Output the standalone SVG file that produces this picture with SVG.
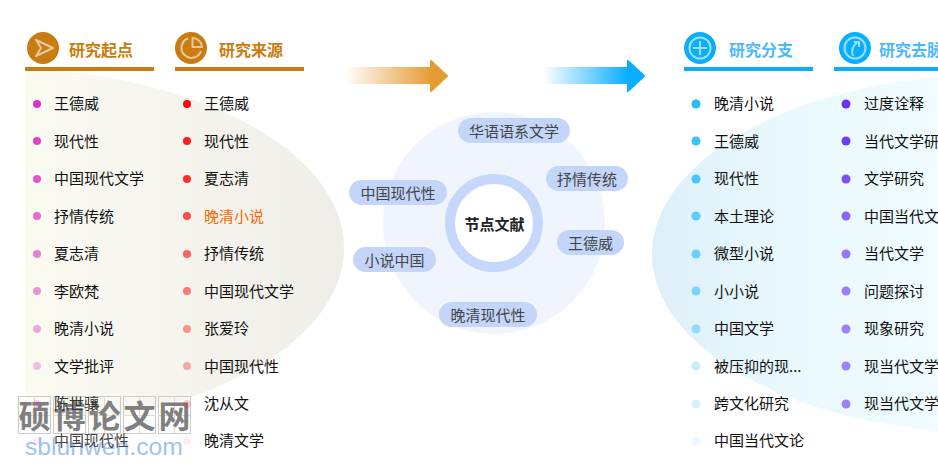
<svg xmlns="http://www.w3.org/2000/svg" width="938" height="467" viewBox="0 0 938 467">
<style>
text{font-family:"Noto Sans CJK SC","Liberation Sans",sans-serif}
.i{font-size:15px;fill:#111;dominant-baseline:central}
.h{font-size:16px;font-weight:700;dominant-baseline:central}
.o{fill:#c97c0f}.b{fill:#0aaeff}.hb{fill:#4db8fb}
.p{fill:#c3d6fa}
.pt{font-size:15px;fill:#444;text-anchor:middle;dominant-baseline:central}
.ic{fill:none;stroke:#fff;stroke-opacity:.6;stroke-width:2;stroke-linejoin:round}
.bx{fill:#fff;fill-opacity:.15;stroke:#ccc}
.bl{stroke:#ddd;fill:none}
</style>
<defs>
<linearGradient id="gl" gradientUnits="userSpaceOnUse" x1="25" x2="344" y1="0" y2="0"><stop offset="0" stop-color="#fcfbf2"/><stop offset="1" stop-color="#eeede8"/></linearGradient>
<linearGradient id="gr" gradientUnits="userSpaceOnUse" x1="652" x2="938" y1="0" y2="0"><stop offset="0" stop-color="#dfeffa"/><stop offset=".45" stop-color="#e8f8fd"/><stop offset="1" stop-color="#f0fcff"/></linearGradient>
<linearGradient id="ao" x1="0" x2="1" y1="0" y2="0"><stop offset="0" stop-color="#e69c35" stop-opacity="0"/><stop offset="1" stop-color="#e69c35"/></linearGradient>
<linearGradient id="ab" x1="0" x2="1" y1="0" y2="0"><stop offset="0" stop-color="#0aaeff" stop-opacity="0"/><stop offset="1" stop-color="#0aaeff"/></linearGradient>
<clipPath id="cl"><rect x="25" y="0" width="400" height="467"/></clipPath>
</defs>
<g id="backdrops">
<ellipse cx="-4" cy="248" rx="348" ry="180" fill="url(#gl)" clip-path="url(#cl)"/>
<ellipse cx="1000" cy="254" rx="348" ry="180" fill="url(#gr)"/>
</g>
<g id="watermark">
<rect x="18.500" y="396.500" width="32" height="37" class="bx"/><rect x="53.500" y="396.500" width="32" height="37" class="bx"/><rect x="88.500" y="396.500" width="32" height="37" class="bx"/><rect x="123.500" y="396.500" width="32" height="37" class="bx"/><rect x="158.500" y="396.500" width="32" height="37" class="bx"/>
<path class="bl" d="M34.500 396.500V433.500M69.500 396.500V433.500M104.500 396.500V433.500M139.500 396.500V433.500M174.500 396.500V433.500M18.500 415.500H50.500M53.500 415.500H85.500M88.500 415.500H120.500M123.500 415.500H155.500M158.500 415.500H190.500"/>
<g font-size="32" font-weight="700" fill="#808080" text-anchor="middle" dominant-baseline="central">
<text x="34.500" y="414">硕</text><text x="69.500" y="414">博</text><text x="104.500" y="414">论</text><text x="139.500" y="414">文</text><text x="174.500" y="414">网</text>
</g>
<text x="25" y="455" font-size="24.700" fill="#9cc4ee" style="font-family:'Liberation Sans',sans-serif">sblunwen.com</text>
</g>
<g id="connectors">
<rect x="345" y="67" width="86" height="17" fill="url(#ao)"/>
<path d="M431 61V91L447 76Z" fill="#e69c35" stroke="#e69c35" stroke-width="2" stroke-linejoin="round"/>
<rect x="543" y="67" width="85" height="17" fill="url(#ab)"/>
<path d="M628 61V91L644 76Z" fill="#0aaeff" stroke="#0aaeff" stroke-width="2" stroke-linejoin="round"/>
</g>
<g id="col1">
<g id="h1"><circle cx="43" cy="48" r="16" class="o"/><path class="ic" d="M36 40L53 48L36 56L41 48Z"/><text x="69" y="49" class="h o">研究起点</text><rect x="25" y="67" width="129" height="4" class="o"/></g>
<g fill="#dd33c4">
<circle cx="37" cy="104" r="4"/><text x="54" y="102.500" class="i">王德威</text>
<circle cx="37" cy="141" r="4" opacity=".92"/><text x="54" y="140" class="i">现代性</text>
<circle cx="37" cy="179" r="4" opacity=".84"/><text x="54" y="177.500" class="i">中国现代文学</text>
<circle cx="37" cy="216" r="4" opacity=".72"/><text x="54" y="215" class="i">抒情传统</text>
<circle cx="37" cy="254" r="4" opacity=".62"/><text x="54" y="252.500" class="i">夏志清</text>
<circle cx="37" cy="291" r="4" opacity=".52"/><text x="54" y="290" class="i">李欧梵</text>
<circle cx="37" cy="329" r="4" opacity=".42"/><text x="54" y="327.500" class="i">晚清小说</text>
<circle cx="37" cy="366" r="4" opacity=".3"/><text x="54" y="365" class="i">文学批评</text>
<circle cx="37" cy="404" r="4" opacity=".2"/><text x="54" y="402.500" class="i" style="fill:#333">陈世骧</text>
<circle cx="37" cy="441" r="4" opacity=".08"/><text x="54" y="439.500" class="i" style="fill:#444">中国现代性</text>
</g>
</g>
<g id="col2">
<g id="h2"><circle cx="191" cy="48" r="16" class="o"/><path class="ic" d="M188 38.500A10 10 0 1 0 201 51"/><path class="ic" d="M192.500 38V47H202A9.500 9.500 0 0 0 192.500 38Z"/><text x="219" y="49" class="h o">研究来源</text><rect x="175" y="67" width="129" height="4" class="o"/></g>
<g fill="#ff0a0a">
<circle cx="187" cy="104" r="4"/><text x="204" y="102.500" class="i">王德威</text>
<circle cx="187" cy="141" r="4" opacity=".92"/><text x="204" y="140" class="i">现代性</text>
<circle cx="187" cy="179" r="4" opacity=".84"/><text x="204" y="177.500" class="i">夏志清</text>
<circle cx="187" cy="216" r="4" opacity=".72"/><text x="204" y="215" class="i" style="fill:#f60">晚清小说</text>
<circle cx="187" cy="254" r="4" opacity=".62"/><text x="204" y="252.500" class="i">抒情传统</text>
<circle cx="187" cy="291" r="4" opacity=".52"/><text x="204" y="290" class="i">中国现代文学</text>
<circle cx="187" cy="329" r="4" opacity=".42"/><text x="204" y="327.500" class="i">张爱玲</text>
<circle cx="187" cy="366" r="4" opacity=".32"/><text x="204" y="365" class="i">中国现代性</text>
<circle cx="187" cy="404" r="4" opacity=".2"/><text x="204" y="402.500" class="i">沈从文</text>
<circle cx="187" cy="441" r="4" opacity=".08"/><text x="204" y="439.500" class="i">晚清文学</text>
</g>
</g>
<g id="center">
<circle cx="494" cy="223" r="111" fill="#eff4fd"/>
<circle cx="494" cy="223" r="44" fill="#fff" stroke="#c5d8fb" stroke-width="10"/>
<text x="494.500" y="223" font-size="15" font-weight="700" fill="#222" text-anchor="middle" dominant-baseline="central">节点文献</text>
</g>
<g id="n1"><rect x="458" y="118" width="112" height="25" rx="12.500" class="p"/><text x="514" y="130" class="pt">华语语系文学</text></g>
<g id="n2"><rect x="546" y="166" width="82" height="25" rx="12.500" class="p"/><text x="587" y="178" class="pt">抒情传统</text></g>
<g id="n3"><rect x="349" y="180" width="98" height="25" rx="12.500" class="p"/><text x="398" y="192" class="pt">中国现代性</text></g>
<g id="n4"><rect x="557" y="230" width="67" height="25" rx="12.500" class="p"/><text x="590.500" y="242" class="pt">王德威</text></g>
<g id="n5"><rect x="353" y="247" width="83" height="25" rx="12.500" class="p"/><text x="394.500" y="259" class="pt">小说中国</text></g>
<g id="n6"><rect x="439" y="302" width="98" height="25" rx="12.500" class="p"/><text x="488" y="314" class="pt">晚清现代性</text></g>
<g id="col3">
<g id="h3"><circle cx="700" cy="48" r="16" class="b"/><circle cx="700" cy="48" r="10.500" class="ic"/><path class="ic" stroke-width="1" d="M700 41V55M693 48H707"/><text x="729" y="49" class="h hb">研究分支</text><rect x="684" y="67" width="129" height="4" class="b"/></g>
<g fill="#27bbfb">
<circle cx="696" cy="104" r="4.500"/><text x="714" y="102.500" class="i">晚清小说</text>
<circle cx="696" cy="141" r="4.500" opacity=".9"/><text x="714" y="140" class="i">王德威</text>
<circle cx="696" cy="179" r="4.500" opacity=".82"/><text x="714" y="177.500" class="i">现代性</text>
<circle cx="696" cy="216" r="4.500" opacity=".72"/><text x="714" y="215" class="i">本土理论</text>
<circle cx="696" cy="254" r="4.500" opacity=".64"/><text x="714" y="252.500" class="i">微型小说</text>
<circle cx="696" cy="291" r="4.500" opacity=".54"/><text x="714" y="290" class="i">小小说</text>
<circle cx="696" cy="329" r="4.500" opacity=".44"/><text x="714" y="327.500" class="i">中国文学</text>
<circle cx="696" cy="366" r="4.500" opacity=".28"/><text x="714" y="365" class="i">被压抑的现...</text>
<circle cx="696" cy="404" r="4.500" opacity=".2"/><text x="714" y="402.500" class="i">跨文化研究</text>
<circle cx="696" cy="441" r="4.500" opacity=".1"/><text x="714" y="439.500" class="i">中国当代文论</text>
</g>
</g>
<g id="col4">
<g id="h4"><circle cx="855" cy="48" r="16" class="b"/><circle cx="855" cy="48" r="10.500" class="ic"/><path class="ic" d="M853 56C851 50 853 45 858 42M854 42H859V47"/><text x="879" y="49" class="h hb">研究去脉</text><rect x="834" y="67" width="104" height="4" class="b"/></g>
<g fill="#6a30f5">
<circle cx="846" cy="104" r="4.500"/><text x="864" y="102.500" class="i">过度诠释</text>
<circle cx="846" cy="141" r="4.500" opacity=".95"/><text x="864" y="140" class="i">当代文学研究</text>
<circle cx="846" cy="179" r="4.500" opacity=".85"/><text x="864" y="177.500" class="i">文学研究</text>
<circle cx="846" cy="216" r="4.500" opacity=".75"/><text x="864" y="215" class="i">中国当代文学</text>
<circle cx="846" cy="254" r="4.500" opacity=".65"/><text x="864" y="252.500" class="i">当代文学</text>
<circle cx="846" cy="291" r="4.500" opacity=".62"/><text x="864" y="290" class="i">问题探讨</text>
<circle cx="846" cy="329" r="4.500" opacity=".6"/><text x="864" y="327.500" class="i">现象研究</text>
<circle cx="846" cy="366" r="4.500" opacity=".6"/><text x="864" y="365" class="i">现当代文学</text>
<circle cx="846" cy="404" r="4.500" opacity=".6"/><text x="864" y="402.500" class="i">现当代文学</text>
</g>
</g>
</svg>
